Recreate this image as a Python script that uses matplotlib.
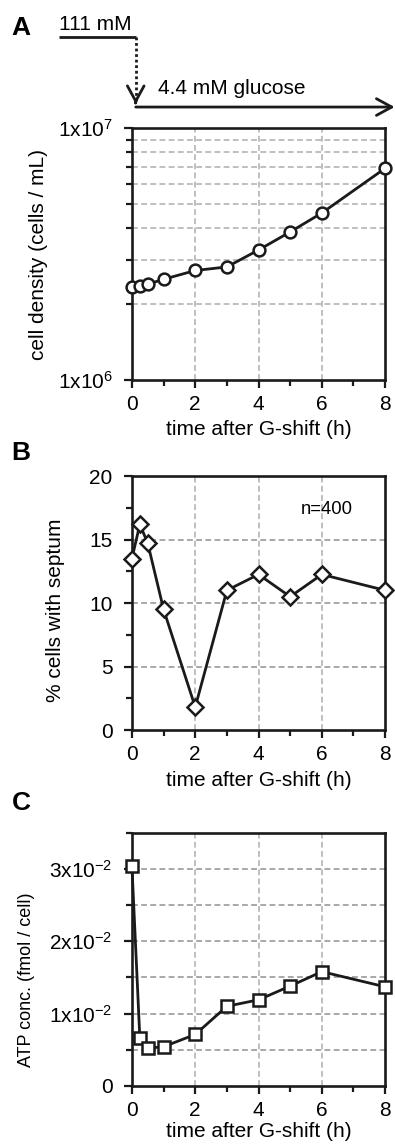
import numpy as np
import matplotlib
matplotlib.use("Agg")
import matplotlib.pyplot as plt
import matplotlib.transforms as mtransforms
from matplotlib.ticker import FixedLocator, NullFormatter

plt.rcParams['font.family'] = ['Liberation Sans', 'DejaVu Sans']
plt.rcParams['mathtext.fontset'] = 'custom'
plt.rcParams['mathtext.rm'] = 'Liberation Sans'
plt.rcParams['mathtext.it'] = 'Liberation Sans'

# --- data ---
t_hours = [0, 0.25, 0.5, 1, 2, 3, 4, 5, 6, 8]
cell_density = [2.34e6, 2.36e6, 2.40e6, 2.51e6, 2.72e6, 2.81e6, 3.28e6, 3.87e6, 4.60e6, 6.92e6]
septum_pct = [13.5, 16.2, 14.7, 9.5, 1.8, 11.0, 12.25, 10.5, 12.25, 11.0]
atp_conc = [0.0304, 0.0066, 0.0052, 0.0054, 0.0071, 0.0110, 0.0119, 0.0138, 0.0158, 0.0137]

x_ticks = [0, 2, 4, 6, 8]
x_minor = [1, 3, 5, 7]
xlabel = "time after G-shift (h)"

LINE = '#1a1a1a'
GRID_H = '#9a9a9a'
GRID_V = '#b4b4b4'
FS = 15
DASH = (0, (3.5, 2))

fig = plt.figure(figsize=(3.95, 11.46), dpi=100)
axA = fig.add_axes([0.334, 0.6684, 0.641, 0.2199])
axB = fig.add_axes([0.334, 0.3630, 0.641, 0.2216])
axC = fig.add_axes([0.334, 0.0526, 0.641, 0.2205])


def style(ax, xlab_y):
    for s in ax.spines.values():
        s.set_linewidth(1.9)
        s.set_color(LINE)
    ax.set_xlim(0, 8)
    ax.set_xticks(x_ticks)
    ax.xaxis.set_minor_locator(FixedLocator(x_minor))
    ax.tick_params(which='major', direction='out', length=6, width=1.6,
                   labelsize=FS, color=LINE)
    ax.tick_params(which='minor', direction='out', length=4.5, width=1.6, color=LINE)
    ax.tick_params(axis='x', which='major', pad=5)
    ax.tick_params(axis='y', which='major', pad=8)
    for xv in [2, 4, 6]:
        ax.axvline(xv, color=GRID_V, ls=DASH, lw=1.2, zorder=0)
    ax.set_xlabel(xlabel, fontsize=FS)
    ax.xaxis.label.set_va('center')
    ax.xaxis.set_label_coords(0.5, xlab_y)


def ylab(ax, text, size, x, y):
    ax.set_ylabel(text, fontsize=size)
    ax.yaxis.label.set_va('center')
    ax.yaxis.label.set_ha('center')
    ax.yaxis.set_label_coords(x, y)


# --- A ---
style(axA, -0.198)
axA.set_yscale('log')
axA.set_ylim(1e6, 1e7)
axA.set_yticks([1e6, 1e7])
axA.set_yticklabels([r'1x10$^{6}$', r'1x10$^{7}$'])
axA.yaxis.set_minor_locator(FixedLocator([k * 1e6 for k in range(2, 10)]))
axA.yaxis.set_minor_formatter(NullFormatter())
for yv in range(2, 10):
    axA.axhline(yv * 1e6, color=GRID_V, ls=DASH, lw=1.2, zorder=0)
axA.plot(t_hours, cell_density, color=LINE, lw=2, marker='o', ms=8.5,
         mfc='white', mec=LINE, mew=1.8, clip_on=False, zorder=3)
ylab(axA, "cell density (cells / mL)", FS, -0.368, 0.5)

# --- B ---
style(axB, -0.197)
axB.set_ylim(0, 20)
axB.set_yticks([0, 5, 10, 15, 20])
axB.yaxis.set_minor_locator(FixedLocator([2.5, 7.5, 12.5, 17.5]))
for yv in [5, 10, 15]:
    axB.axhline(yv, color=GRID_H, ls=DASH, lw=1.2, zorder=0)
axB.plot(t_hours, septum_pct, color=LINE, lw=2, marker='D', ms=8,
         mfc='white', mec=LINE, mew=1.8, clip_on=False, zorder=3)
ylab(axB, "% cells with septum", FS, -0.300, 0.47)
axB.text(0.77, 0.87, "n=400", transform=axB.transAxes, fontsize=13.3,
         ha='center', va='center')

# --- C ---
style(axC, -0.183)
axC.set_ylim(0, 0.035)
axC.set_yticks([0, 0.01, 0.02, 0.03])
axC.set_yticklabels(['0', r'1x10$^{-2}$', r'2x10$^{-2}$', r'3x10$^{-2}$'])
axC.yaxis.set_minor_locator(FixedLocator([0.005, 0.015, 0.025, 0.035]))
for yv in [0.005, 0.01, 0.015, 0.02, 0.025, 0.03]:
    axC.axhline(yv, color=GRID_H, ls=DASH, lw=1.2, zorder=0)
axC.plot(t_hours, atp_conc, color=LINE, lw=2, marker='s', ms=8.5,
         mfc='white', mec=LINE, mew=1.8, clip_on=False, zorder=3)
ylab(axC, "ATP conc. (fmol / cell)", 13, -0.415, 0.42)

# --- panel letters ---
for lab, y in [('A', 0.976), ('B', 0.605), ('C', 0.299)]:
    fig.text(0.053, y, lab, fontsize=19, fontweight='bold', ha='center', va='center')

# --- glucose shift annotation above A ---
tr = mtransforms.blended_transform_factory(axA.transData, fig.transFigure)
head = '->,head_length=1.1,head_width=0.6'
axA.plot([-2.31, 0.12], [0.9677, 0.9677], transform=tr, color=LINE, lw=2,
         clip_on=False, solid_capstyle='butt')
axA.plot([0.12, 0.12], [0.9677, 0.910], transform=tr, color=LINE, lw=2,
         ls=(0, (1, 1)), clip_on=False)
# solid open head on the dotted drop
axA.annotate('', xy=(0.12, 0.9092), xytext=(0.12, 0.9105), xycoords=tr, textcoords=tr,
             arrowprops=dict(arrowstyle=head, color=LINE, lw=2,
                             shrinkA=0, shrinkB=0))
axA.annotate('', xy=(8.3, 0.9066), xytext=(0.12, 0.9066), xycoords=tr, textcoords=tr,
             arrowprops=dict(arrowstyle=head, color=LINE, lw=2,
                             shrinkA=0, shrinkB=0))
axA.text(-2.31, 0.9785, "111 mM", transform=tr, fontsize=15, ha='left', va='center')
axA.text(0.83, 0.923, "4.4 mM glucose", transform=tr, fontsize=15, ha='left', va='center')

fig.savefig("out.png", dpi=100)
